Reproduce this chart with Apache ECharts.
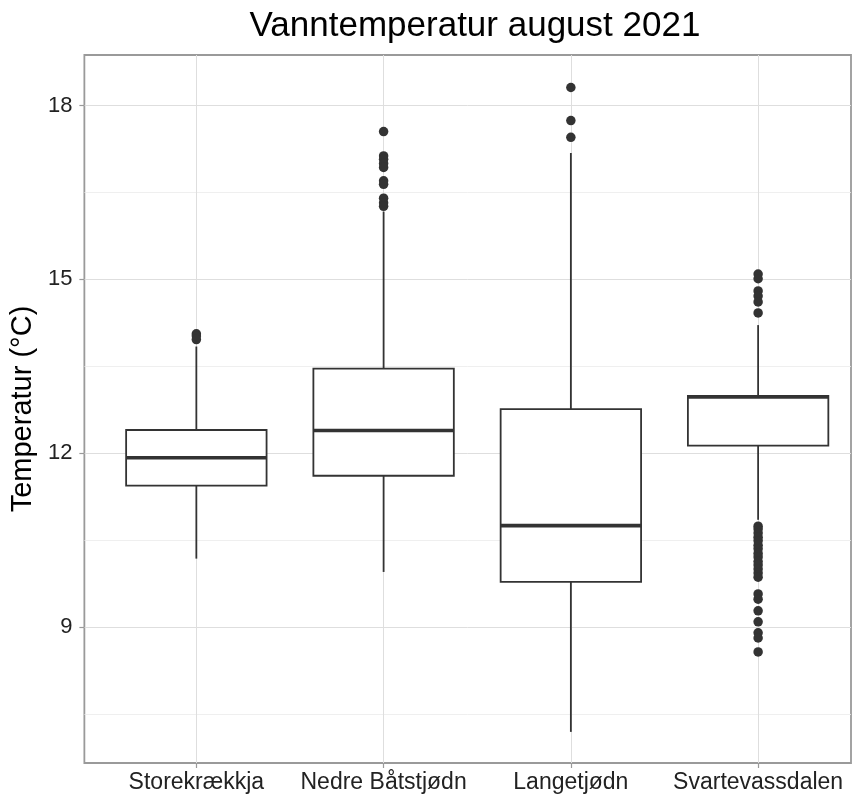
<!DOCTYPE html>
<html>
<head>
<meta charset="utf-8">
<title>Vanntemperatur august 2021</title>
<script src="https://cdn.jsdelivr.net/npm/echarts@6/dist/echarts.min.js"></script>
<style>
  html, body { margin: 0; padding: 0; background: #ffffff; }
  #chart { width: 859px; height: 798px; }
</style>
</head>
<body>
<div id="chart"></div>
<script>
// Water temperature per site, August 2021 (°C)
const categories = ['Storekrækkja', 'Nedre Båtstjødn', 'Langetjødn', 'Svartevassdalen'];

// Box statistics per site
const lowerWhisker = [10.18, 9.95, 7.19, 10.85];
const q1Values     = [11.44, 11.61, 9.78, 12.13];
const medianValues = [11.92, 12.39, 10.75, 12.97];
const q3Values     = [12.40, 13.46, 12.76, 12.99];
const upperWhisker = [13.84, 16.17, 17.18, 14.21];

// Outlying observations per site
const outliersStorekraekkja = [14.06, 14.02, 13.96];
const outliersNedre = [17.55, 17.13, 17.07, 17.00, 16.93, 16.70, 16.64, 16.40, 16.32, 16.26];
const outliersLangetjodn = [18.31, 17.74, 17.45];
const outliersSvartevass = [15.09, 15.01, 14.80, 14.71, 14.61, 14.42,
  10.74, 10.69, 10.62, 10.55, 10.49, 10.41, 10.35, 10.27, 10.21, 10.13, 10.07, 10.00, 9.93, 9.86,
  9.57, 9.48, 9.28, 9.09, 8.90, 8.81, 8.57];
const outlierGroups = [outliersStorekraekkja, outliersNedre, outliersLangetjodn, outliersSvartevass];

// Axis ticks
const yMajorTicks = [9, 12, 15, 18];
const yMinorTicks = [7.5, 10.5, 13.5, 16.5];
const xTicks = [1, 2, 3, 4];

const FONT = "'Liberation Sans', Arial, Helvetica, sans-serif";
const INK = '#333333';
const BOX_HALF = 0.375;

const boxData = categories.map((c, i) => [i + 1, lowerWhisker[i], q1Values[i], medianValues[i], q3Values[i], upperWhisker[i]]);
const outlierData = [];
outlierGroups.forEach((g, i) => g.forEach(v => outlierData.push([i + 1, v])));

function renderBox(params, api) {
  const x = api.value(0);
  const lo = api.value(1), q1 = api.value(2), med = api.value(3), q3 = api.value(4), hi = api.value(5);
  const pHi = api.coord([x, hi]);
  const pQ3 = api.coord([x, q3]);
  const pQ1 = api.coord([x, q1]);
  const pLo = api.coord([x, lo]);
  const pL = api.coord([x - BOX_HALF, q3]);
  const pR = api.coord([x + BOX_HALF, q1]);
  const pMedL = api.coord([x - BOX_HALF, med]);
  const pMedR = api.coord([x + BOX_HALF, med]);
  const lineStyle = { stroke: INK, lineWidth: 1.8, fill: null };
  return {
    type: 'group',
    children: [
      { type: 'line', shape: { x1: pHi[0], y1: pHi[1], x2: pQ3[0], y2: pQ3[1] }, style: lineStyle },
      { type: 'line', shape: { x1: pQ1[0], y1: pQ1[1], x2: pLo[0], y2: pLo[1] }, style: lineStyle },
      { type: 'rect', shape: { x: pL[0], y: pL[1], width: pR[0] - pL[0], height: pR[1] - pL[1] },
        style: { fill: '#ffffff', stroke: INK, lineWidth: 1.8 } },
      { type: 'line', shape: { x1: pMedL[0], y1: pMedL[1], x2: pMedR[0], y2: pMedR[1] },
        style: { stroke: INK, lineWidth: 3.6 } }
    ]
  };
}

const chart = echarts.init(document.getElementById('chart'), null, { renderer: 'canvas' });

chart.setOption({
  animation: false,
  backgroundColor: '#ffffff',
  textStyle: { fontFamily: FONT },
  graphic: [{
    type: 'text',
    x: 475,
    y: 26,
    style: {
      text: 'Vanntemperatur august 2021',
      font: '35px ' + FONT,
      fill: '#000000',
      align: 'center',
      verticalAlign: 'middle'
    }
  }],
  grid: {
    left: 84, right: 8, top: 55, bottom: 35,
    show: true,
    backgroundColor: '#ffffff',
    borderColor: '#9a9a9a',
    borderWidth: 1.8
  },
  xAxis: {
    type: 'value',
    min: 0.402,
    max: 4.496,
    axisLine: { show: false },
    axisTick: { show: true, length: 5, customValues: xTicks, lineStyle: { color: '#9a9a9a', width: 1.2 } },
    axisLabel: {
      customValues: xTicks,
      margin: 8,
      fontSize: 23,
      color: '#222222',
      fontFamily: FONT,
      formatter: v => categories[Math.round(v) - 1] || ''
    },
    splitLine: { show: true, lineStyle: { color: '#dedede', width: 1 } }
  },
  yAxis: [{
    type: 'value',
    min: 6.653,
    max: 18.871,
    name: 'Temperatur (°C)',
    nameLocation: 'middle',
    nameGap: 42,
    nameTextStyle: { fontSize: 29, color: '#000000', fontFamily: FONT },
    axisLine: { show: false },
    axisTick: { show: true, length: 5, customValues: yMajorTicks, lineStyle: { color: '#9a9a9a', width: 1.2 } },
    axisLabel: { customValues: yMajorTicks, margin: 12, fontSize: 22, color: '#222222', fontFamily: FONT },
    splitLine: { show: true, lineStyle: { color: '#dedede', width: 1 } }
  }, {
    type: 'value',
    position: 'left',
    min: 6.653,
    max: 18.871,
    axisLine: { show: false },
    axisTick: { show: false, customValues: yMinorTicks },
    axisLabel: { show: false, customValues: yMinorTicks },
    splitLine: { show: true, lineStyle: { color: '#ebebeb', width: 0.8 } }
  }],
  series: [{
    type: 'custom',
    name: 'boks',
    xAxisIndex: 0,
    yAxisIndex: 0,
    data: boxData,
    encode: { x: 0, y: [1, 2, 3, 4, 5] },
    renderItem: renderBox,
    z: 2
  }, {
    type: 'scatter',
    name: 'uteliggere',
    xAxisIndex: 0,
    yAxisIndex: 0,
    data: outlierData,
    symbol: 'circle',
    symbolSize: 9.5,
    itemStyle: { color: INK, opacity: 1 },
    z: 3
  }]
});
</script>
</body>
</html>
